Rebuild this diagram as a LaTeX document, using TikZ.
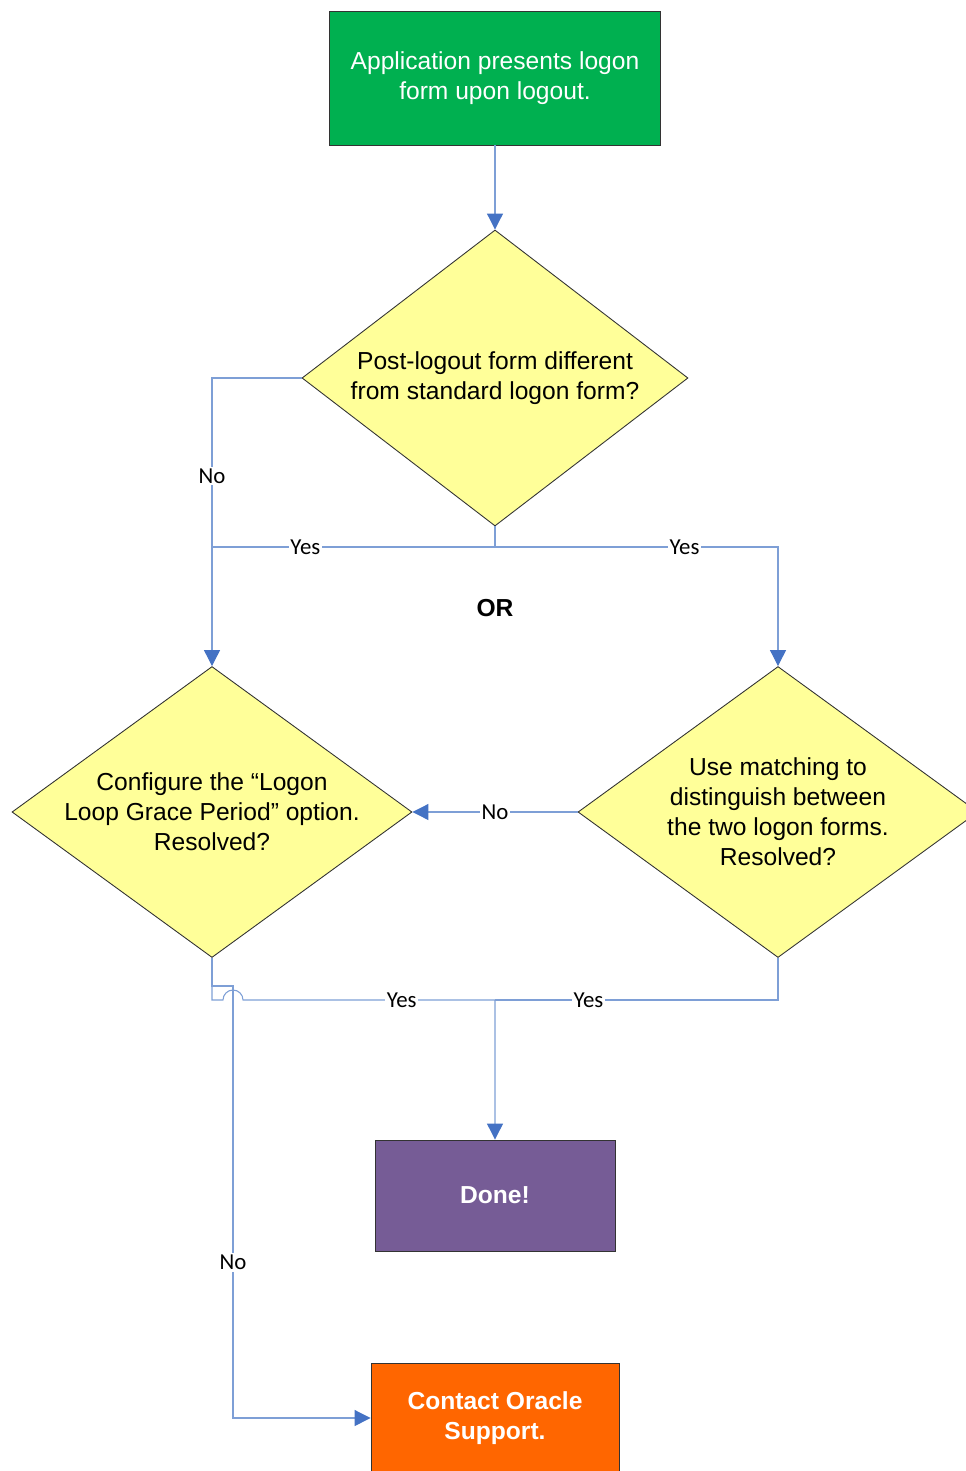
\documentclass[tikz,border=0pt]{standalone}
\usepackage{fontspec}
\setmainfont{Liberation Sans}
\newfontfamily\labelfont{Carlito}
\usetikzlibrary{shapes.geometric,arrows.meta}

\definecolor{startgreen}{HTML}{00B050}
\definecolor{askyellow}{HTML}{FFFF99}
\definecolor{donepurple}{HTML}{765C96}
\definecolor{supportorange}{HTML}{FF6600}
\definecolor{flowline}{HTML}{7E9FD6}
\definecolor{flowtip}{HTML}{4472C4}

\tikzset{
  flowbox/.style={draw=black!80, line width=0.5pt, align=center,
    font=\fontsize{14pt}{17pt}\selectfont},
  decision/.style={flowbox, shape=diamond, fill=askyellow, inner sep=0pt,
    inner xsep=-0.4cm, aspect=1.37},
  flow/.style={draw=flowline, line width=0.6pt},
  lbl/.style={fill=white, inner sep=1pt, font=\labelfont\fontsize{13pt}{15pt}\selectfont},
}

\begin{document}
\begin{tikzpicture}[>={Triangle[length=0.32cm, width=0.32cm, color=flowtip]}]
  \useasboundingbox (0,0) rectangle (19.32,-29.42);
  \clip (0,0) rectangle (19.32,-29.42);
  % boxes
  \node[flowbox, fill=startgreen, text=white, minimum width=6.62cm, minimum height=2.68cm]
    (start) at (9.9,-1.56) {Application presents logon\\form upon logout.};
  \node[flowbox, fill=donepurple, text=white, minimum width=4.8cm, minimum height=2.22cm,
    font=\bfseries\fontsize{14pt}{17pt}\selectfont] (done) at (9.9,-23.91) {Done!};
  \node[flowbox, fill=supportorange, text=white, minimum width=4.96cm, minimum height=2.2cm,
    font=\bfseries\fontsize{14pt}{17pt}\selectfont] (support) at (9.9,-28.36) {Contact Oracle\\Support.};
  % decisions
  \node[decision, minimum width=7.72cm, minimum height=5.92cm, aspect=1.3]
    (post) at (9.9,-7.56) {Post-logout form different\\from standard logon form?};
  \node[decision, minimum width=8cm, minimum height=5.82cm]
    (cfg) at (4.24,-16.24) {Configure the “Logon\\Loop Grace Period” option.\\Resolved?};
  \node[decision, minimum width=8cm, minimum height=5.82cm]
    (match) at (15.56,-16.24) {Use matching to\\distinguish between\\the two logon forms.\\Resolved?};
  \node[font=\bfseries\fontsize{14pt}{17pt}\selectfont] (or) at (9.9,-12.16) {OR};

  % turning points
  \coordinate (split) at (9.9,-10.94);
  \coordinate (join) at (9.9,-20);
  \coordinate (hop) at (4.46,-20);
  \coordinate (noturn) at (4.66,-19.72);

  % connectors
  \draw[flow, ->] (start) -- (post);
  \draw[flow, ->] (post.west) -| node[lbl, pos=0.67] {No} (cfg.north);
  \draw[flow] (post.south) -- (split) -- node[lbl, pos=0.67] {Yes} (split -| cfg.north);
  \draw[flow, ->] (split) -- node[lbl, pos=0.67] {Yes} (split -| match.north) -- (match.north);
  \draw[flow, ->] (match.west) -- node[lbl] {No} (cfg.east);
  % yes from the left decision hops over the no line
  \draw[flow, ->] (cfg.south) |- (hop) arc[start angle=180, end angle=0, radius=0.2cm]
    -- node[lbl, pos=0.63] {Yes} (join) -- (done.north);
  \draw[flow] (match.south) -- (match.south |- join) -- node[lbl, pos=0.67] {Yes} (join);
  \draw[flow, ->] (cfg.south) |- (noturn) -- node[lbl, pos=0.64] {No} (noturn |- support.west)
    -- (support.west);
\end{tikzpicture}
\end{document}
